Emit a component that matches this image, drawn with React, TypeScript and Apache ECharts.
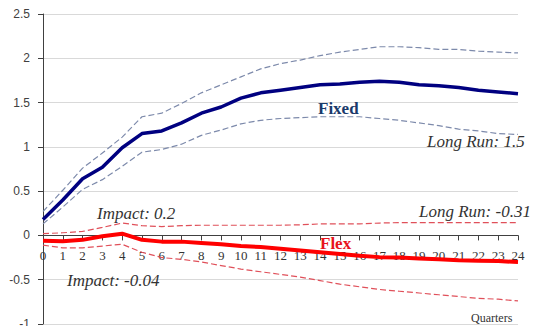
import React, { useEffect, useRef } from "react";
import * as echarts from "echarts";

const quarters = Array.from({ length: 25 }, (_, i) => String(i));

const fixedMain = [0.18, 0.40, 0.64, 0.77, 0.99, 1.15, 1.18, 1.27, 1.38, 1.45, 1.55, 1.61, 1.64, 1.67, 1.70, 1.71, 1.73, 1.74, 1.73, 1.70, 1.69, 1.67, 1.64, 1.62, 1.60];
const fixedUpper = [0.27, 0.51, 0.76, 0.93, 1.11, 1.34, 1.38, 1.49, 1.61, 1.70, 1.79, 1.88, 1.94, 1.98, 2.03, 2.07, 2.10, 2.13, 2.13, 2.12, 2.10, 2.10, 2.08, 2.07, 2.06];
const fixedLower = [0.13, 0.32, 0.52, 0.63, 0.78, 0.94, 0.97, 1.03, 1.13, 1.19, 1.26, 1.30, 1.32, 1.33, 1.34, 1.34, 1.34, 1.32, 1.30, 1.27, 1.24, 1.20, 1.18, 1.15, 1.14];

const flexMain = [-0.06, -0.065, -0.05, -0.01, 0.02, -0.05, -0.07, -0.07, -0.085, -0.10, -0.12, -0.13, -0.15, -0.17, -0.19, -0.21, -0.23, -0.245, -0.25, -0.26, -0.27, -0.28, -0.285, -0.29, -0.30];
const flexUpper = [0.02, 0.03, 0.045, 0.09, 0.14, 0.11, 0.10, 0.11, 0.115, 0.115, 0.115, 0.115, 0.115, 0.12, 0.13, 0.13, 0.13, 0.14, 0.145, 0.145, 0.145, 0.145, 0.145, 0.145, 0.145];
const flexLower = [-0.11, -0.14, -0.14, -0.12, -0.10, -0.19, -0.25, -0.27, -0.30, -0.34, -0.38, -0.41, -0.44, -0.47, -0.51, -0.55, -0.58, -0.61, -0.63, -0.65, -0.67, -0.69, -0.71, -0.72, -0.74];

const yTicks = { min: -1, max: 2.5, interval: 0.5 };

const annotations = [
  { text: "Fixed", x: 318, y: 108, color: "#1a3a6b", weight: "bold", style: "normal", size: 17 },
  { text: "Long Run: 1.5", x: 427, y: 141, color: "#333333", weight: "normal", style: "italic", size: 17 },
  { text: "Impact: 0.2", x: 97, y: 213, color: "#333333", weight: "normal", style: "italic", size: 17 },
  { text: "Long Run: -0.31", x: 419, y: 211, color: "#333333", weight: "normal", style: "italic", size: 17 },
  { text: "Flex", x: 320, y: 243, color: "#e8141c", weight: "bold", style: "normal", size: 17 },
  { text: "Impact: -0.04", x: 67, y: 280, color: "#333333", weight: "normal", style: "italic", size: 17 },
  { text: "Quarters", x: 471, y: 318, color: "#333333", weight: "normal", style: "normal", size: 12 },
];

const GRID_TOP = 14;
const GRID_BOTTOM = 2;
const CHART_H = 326;

export default function App() {
  const ref = useRef<HTMLDivElement>(null);
  useEffect(() => {
    if (!ref.current) return;
    const chart = echarts.init(ref.current, null, { renderer: "svg" });
    const plotH = CHART_H - GRID_TOP - GRID_BOTTOM;
    const zeroOffset = -plotH * ((0 - yTicks.min) / (yTicks.max - yTicks.min));
    const band = (data: number[], color: string, z: number) => ({
      type: "line",
      data,
      symbol: "none",
      z,
      lineStyle: { color, width: 1.2, type: [6, 3] },
    });
    chart.setOption({
      animation: false,
      backgroundColor: "#ffffff",
      grid: {
        left: 43,
        right: 19,
        top: GRID_TOP,
        bottom: GRID_BOTTOM,
        containLabel: false,
        outerBoundsMode: "none",
      },
      xAxis: {
        type: "category",
        data: quarters,
        boundaryGap: false,
        position: "bottom",
        offset: zeroOffset,
        axisLine: { onZero: false, lineStyle: { color: "#404040", width: 1 } },
        axisTick: { show: true, inside: false, length: 5, lineStyle: { color: "#404040" }, alignWithLabel: true },
        axisLabel: {
          interval: 0,
          margin: 14,
          color: "#333333",
          fontFamily: "Liberation Serif",
          fontSize: 13,
        },
        splitLine: { show: false },
      },
      yAxis: {
        type: "value",
        min: yTicks.min,
        max: yTicks.max,
        interval: yTicks.interval,
        axisLine: { show: true, onZero: false, lineStyle: { color: "#404040", width: 1 } },
        axisTick: { show: true, length: 5, lineStyle: { color: "#404040" } },
        axisLabel: {
          margin: 13,
          color: "#404040",
          fontFamily: "Liberation Sans",
          fontSize: 12,
          formatter: (v: number) => String(v),
        },
        splitLine: { show: true, lineStyle: { color: "#d9d9d9", width: 1 } },
      },
      series: [
        band(fixedUpper, "#7d8aab", 2),
        band(fixedLower, "#7d8aab", 2),
        band(flexUpper, "#e0505a", 2),
        band(flexLower, "#e0505a", 2),
        {
          type: "line",
          data: fixedMain,
          symbol: "none",
          z: 3,
          lineStyle: { color: "#000080", width: 3.5 },
        },
        {
          type: "line",
          data: flexMain,
          symbol: "none",
          z: 3,
          lineStyle: { color: "#ff0000", width: 4 },
        },
      ],
      graphic: annotations.map((a) => ({
        type: "text",
        x: a.x,
        y: a.y,
        z: 10,
        style: {
          text: a.text,
          fill: a.color,
          fontFamily: "Liberation Serif",
          fontSize: a.size,
          fontWeight: a.weight,
          fontStyle: a.style,
          textVerticalAlign: "middle",
        },
      })),
    });
    return () => chart.dispose();
  }, []);
  return (
    <div
      ref={ref}
      style={{ position: "fixed", left: 0, top: 0, width: 537, height: 326 }}
    />
  );
}
